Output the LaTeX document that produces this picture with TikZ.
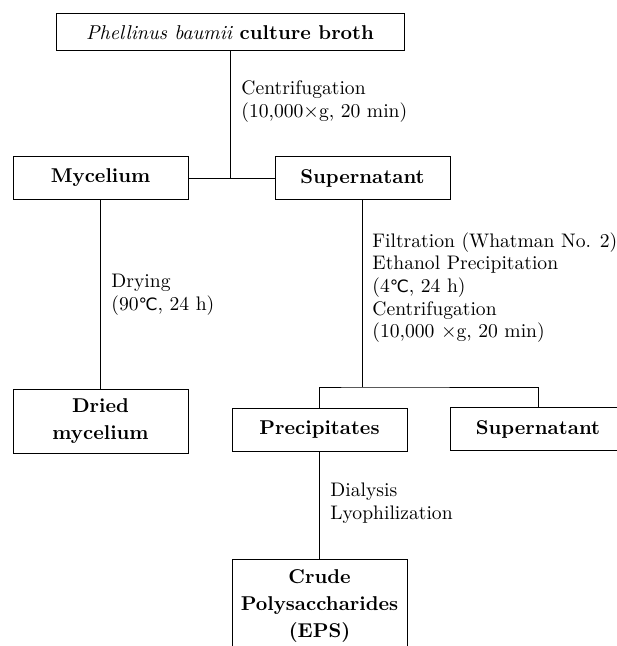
\documentclass[tikz,border=0pt]{standalone}
\usepackage{fontspec}
\newfontfamily\symbfont{DejaVu Sans}
\newcommand{\tempC}{{\symbfont\fontsize{8.5}{10}\selectfont ℃}}

\begin{document}
\begin{tikzpicture}[x=0.5pt,y=-0.5pt,
        stage/.style={draw,line width=0.5pt,inner sep=0pt,align=center,
            minimum width=87.5pt,minimum height=21.5pt,
            font=\fontsize{10}{13.5}\selectfont\bfseries},
        proc/.style={anchor=west,inner sep=0pt,align=left,
            font=\fontsize{9.8}{11.3}\selectfont}]
            \useasboundingbox(0,0)rectangle(616,646);
            \node[stage,minimum width=174pt,minimum height=18.5pt](broth)at(230,32.5){{\mdseries\itshape Phellinus baumii} culture broth};
            \node[stage](myc)at(100.5,178){Mycelium};
            \node[stage](sup)at(362.5,178){Supernatant};
            \node[stage,minimum height=32pt](dried)at(100.5,421){Dried\\mycelium};
            \node[stage](prec)at(319.5,429.5){Precipitates};
            \node[stage,minimum width=88pt](supb)at(538,429){Supernatant};
            \node[stage,minimum height=47pt](eps)at(319.5,606){Crude\\Polysaccharides\\(EPS)};
            \coordinate(split)at(230,178);
            \coordinate(fork)at(362.5,387);
            \draw(broth)--(split);
            \draw(myc)--(sup);
            \draw(myc)--(dried);
            \draw(sup)--(fork);
            \draw(prec)|-(fork)-|(supb);
            \draw(prec)--(eps);
            \node[proc](centri)at(241,101.5){Centrifugation\\(10,000$\times$g, 20 min)};
            \node[proc](dry)at(111,294.5){Drying\\(90\tempC, 24 h)};
            \node[proc](purif)at(372,287.5){Filtration (Whatman No. 2)\\Ethanol Precipitation\\(4\tempC, 24 h)\\Centrifugation\\(10,000 $\times$g, 20 min)};
            \node[proc](dial)at(330,503.5){Dialysis\\Lyophilization};
        \end{tikzpicture}
\end{document}
